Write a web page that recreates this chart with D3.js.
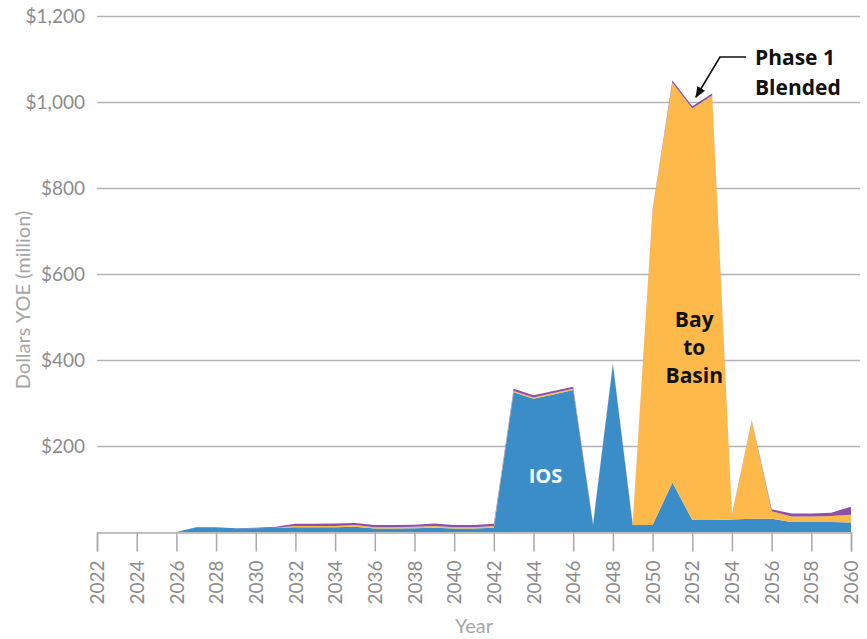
<!DOCTYPE html>
<html>
<head>
<meta charset="utf-8">
<script src="https://cdn.jsdelivr.net/npm/d3@7"></script>
<style>
  html, body { margin: 0; padding: 0; background: #fff; }
  svg { display: block; }
  text { font-family: "Lato", sans-serif; }
</style>
</head>
<body>
<svg id="chart" width="867" height="639"></svg>
<script>
// ---- Data ----
const years = d3.range(2022, 2061);
const ios = [0,0,0,0,0, 11,11,9,9,10, 11,11,11,12,8, 8,9,10,8,8, 10,325,310,320,330, 17,390,16,16,115, 28,28,29,31,31, 23,23,23,22];
const bayToBasin = [0,0,0,0,0, 0,0,0,0,0, 3,3,3,4,3, 3,3,4,3,3, 4,3,3,3,3, 1,1,3,731,930, 957,987,9,227,17, 13,13,14,18];
const phase1 = [0,0,0,0,0, 0,0,0,1,2, 5,5,6,5,5, 5,5,6,5,5, 5,5,5,5,5, 2,2,2,3,5, 5,5,2,2,5, 7,7,8,19];
const yTicks = [200, 400, 600, 800, 1000, 1200];
const xTicks = d3.range(2022, 2061, 2);
const seriesKeys = ["IOS", "Bay to Basin", "Phase 1 Blended"];
const seriesColors = ["#3a8dc6", "#fdb94a", "#8c52a6"];

const table = years.map((y, i) => ({
  year: y, "IOS": ios[i], "Bay to Basin": bayToBasin[i], "Phase 1 Blended": phase1[i]
}));

const svg = d3.select("#chart");
const x = d3.scaleLinear().domain([2022, 2060]).range([97, 851]);
const y = d3.scaleLinear().domain([0, 1200]).range([532, 16]);
const gridRight = 860;

// gridlines + y labels
const gy = svg.append("g").attr("transform", `translate(${x(2022)},0)`)
  .call(d3.axisLeft(y).tickValues(yTicks).tickSize(-(gridRight - x(2022))).tickPadding(12)
    .tickFormat(d => "$" + d3.format(",")(d)));
gy.select(".domain").remove();
gy.selectAll(".tick line").attr("stroke", "#b3b3b3").attr("stroke-width", 1.5);
gy.selectAll(".tick text").attr("fill", "#8c8c8c").style("font-size", "19px")
  .style("font-family", "Lato, sans-serif");

// stacked areas
const stack = d3.stack().keys(seriesKeys);
const layers = stack(table);
const area = d3.area()
  .x(d => x(d.data.year))
  .y0(d => y(d[0]))
  .y1(d => y(d[1]));
svg.append("g").selectAll("path").data(layers).join("path")
  .attr("d", area)
  .attr("fill", (d, i) => seriesColors[i]);

// x axis
const gx = svg.append("g").attr("transform", `translate(0,${y(0) + 0.5})`)
  .call(d3.axisBottom(x).tickValues(xTicks).tickSize(19).tickPadding(9).tickFormat(d3.format("d")));
gx.select(".domain").attr("stroke", "#aaaaaa").attr("stroke-width", 1.5);
gx.selectAll(".tick line").attr("stroke", "#aaaaaa").attr("stroke-width", 1.5);
gx.selectAll(".tick text")
  .attr("fill", "#8c8c8c")
  .style("font-size", "19px")
  .style("font-family", "Lato, sans-serif")
  .attr("transform", "rotate(-90)")
  .attr("text-anchor", "end")
  .attr("x", -28)
  .attr("y", 0)
  .attr("dy", "0.35em");

// axis titles
svg.append("text")
  .attr("transform", `translate(30,${300}) rotate(-90)`)
  .attr("text-anchor", "middle")
  .attr("fill", "#a6a6a6")
  .style("font-size", "20px")
  .style("font-family", "Lato, sans-serif")
  .text("Dollars YOE (million)");
svg.append("text")
  .attr("x", 474).attr("y", 633)
  .attr("text-anchor", "middle")
  .attr("fill", "#a6a6a6")
  .style("font-size", "20px")
  .style("font-family", "Lato, sans-serif")
  .text("Year");

// series labels
svg.append("text")
  .attr("x", x(2044.6)).attr("y", 483)
  .attr("text-anchor", "middle")
  .attr("fill", "#ffffff")
  .style("font-size", "20px").style("font-weight", "bold")
  .style("font-family", "'Open Sans', sans-serif")
  .text("IOS");

const bay = svg.append("text")
  .attr("text-anchor", "middle")
  .attr("fill", "#111")
  .style("font-size", "21px").style("font-weight", "bold")
  .style("font-family", "'Open Sans', sans-serif");
["Bay", "to", "Basin"].forEach((t, i) => {
  bay.append("tspan").attr("x", x(2052.1)).attr("y", 327 + i * 28).text(t);
});

const ph = svg.append("text")
  .attr("fill", "#111")
  .style("font-size", "21px").style("font-weight", "bold")
  .style("font-family", "'Open Sans', sans-serif");
["Phase 1", "Blended"].forEach((t, i) => {
  ph.append("tspan").attr("x", 755).attr("y", 65 + i * 30).text(t);
});

// arrow
svg.append("defs").append("marker")
  .attr("id", "ah").attr("viewBox", "0 0 10 10").attr("refX", 9).attr("refY", 5)
  .attr("markerWidth", 7).attr("markerHeight", 7).attr("orient", "auto-start-reverse")
  .append("path").attr("d", "M0,1 L10,5 L0,9 Z").attr("fill", "#111");
svg.append("path")
  .attr("d", "M746,57 L720,57 L696,97")
  .attr("fill", "none").attr("stroke", "#111").attr("stroke-width", 1.6)
  .attr("marker-end", "url(#ah)");
</script>
</body>
</html>
